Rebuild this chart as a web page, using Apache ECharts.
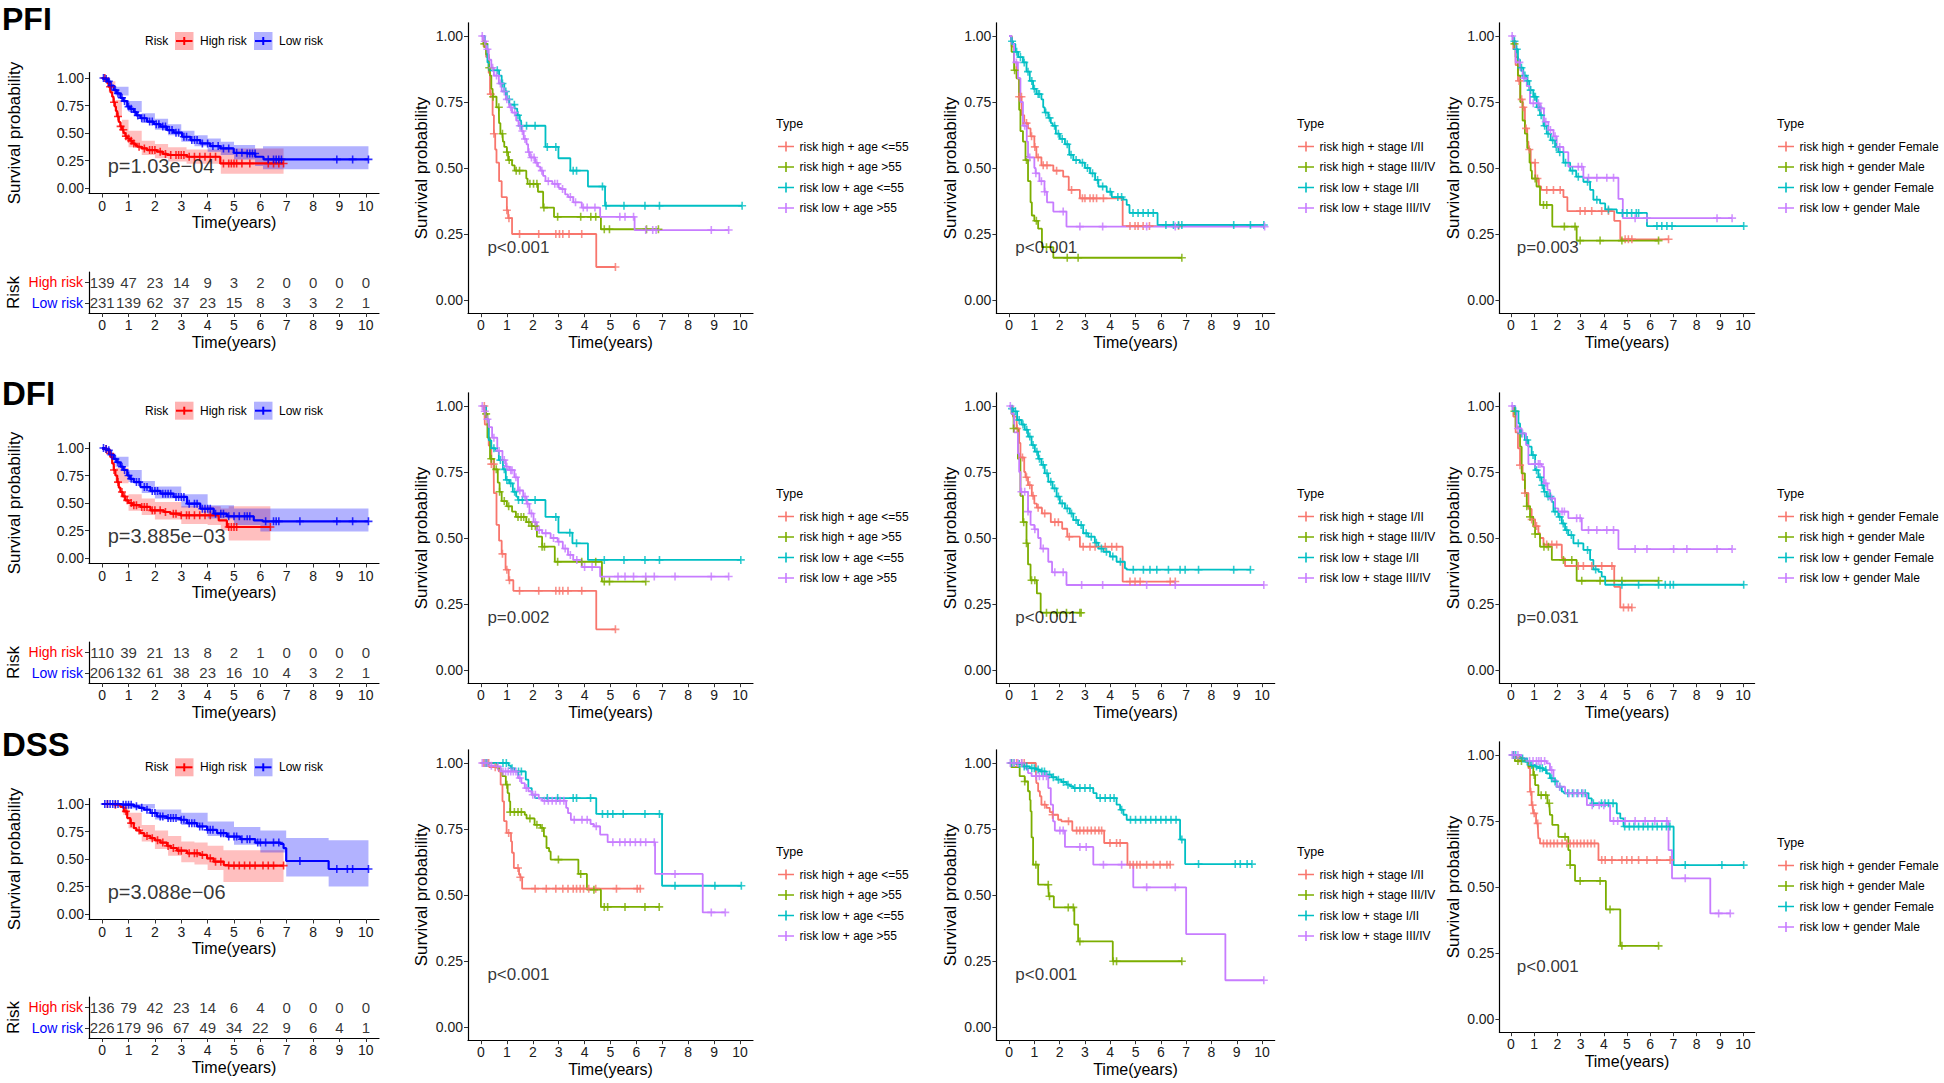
<!DOCTYPE html>
<html><head><meta charset="utf-8">
<script src="https://cdn.jsdelivr.net/npm/echarts@6/dist/echarts.min.js"></script>
<style>html,body{margin:0;padding:0;background:#fff}#c{width:1944px;height:1083px}</style>
</head><body><div id="c"></div>
<script>
// ---------------- DATA ----------------
const years = [0,1,2,3,4,5,6,7,8,9,10];
const probTicks = [0,0.25,0.5,0.75,1];
const riskGroups = ['Low risk','High risk'];
const rowTitles = ['PFI','DFI','DSS'];
const ageNames = ['risk high + age <=55','risk high + age >55','risk low + age <=55','risk low + age >55'];
const stageNames = ['risk high + stage I/II','risk high + stage III/IV','risk low + stage I/II','risk low + stage III/IV'];
const genderNames = ['risk high + gender Female','risk high + gender Male','risk low + gender Female','risk low + gender Male'];
const col1P = ['p=1.03e\u221204','p=3.885e\u221203','p=3.088e\u221206'];
const groupP = [['p<0.001','p<0.001','p=0.003'],['p=0.002','p<0.001','p=0.031'],['p<0.001','p<0.001','p<0.001']];

// risk tables
const pfiRiskHigh = [139,47,23,14,9,3,2,0,0,0,0];
const pfiRiskLow  = [231,139,62,37,23,15,8,3,3,2,1];
const dfiRiskHigh = [110,39,21,13,8,2,1,0,0,0,0];
const dfiRiskLow  = [206,132,61,38,23,16,10,4,3,2,1];
const dssRiskHigh = [136,79,42,23,14,6,4,0,0,0,0];
const dssRiskLow  = [226,179,96,67,49,34,22,9,6,4,1];

// ---- column 1: High / Low risk (steps [t,S], censor times, band [t,lo,hi]) ----
const pfiHigh = [[0,1],[0.13,0.99],[0.2,0.95],[0.25,0.92],[0.32,0.87],[0.38,0.83],[0.43,0.78],[0.48,0.74],[0.52,0.7],[0.57,0.65],[0.63,0.6],[0.69,0.56],[0.75,0.53],[0.82,0.5],[0.88,0.47],[0.95,0.45],[1.05,0.43],[1.14,0.405],[1.25,0.39],[1.33,0.375],[1.5,0.36],[1.7,0.345],[2.08,0.33],[2.3,0.31],[2.46,0.3],[3.22,0.284],[4.48,0.223]];
const pfiHighCens = [0.1,0.3,0.45,0.6,0.7,0.8,0.9,1.0,1.1,1.2,1.4,1.6,1.8,1.9,2.0,2.2,2.4,2.6,2.8,2.9,3.0,3.1,3.3,3.5,3.7,3.9,4.1,4.3,4.6,4.8,4.9,5.0,5.1,5.3,5.6,6.3,6.5,6.7,6.88];
const pfiHighBand = [[0,1,1],[0.25,0.87,0.97],[0.5,0.65,0.8],[0.75,0.47,0.62],[1,0.37,0.52],[1.5,0.3,0.43],[2,0.27,0.4],[2.5,0.24,0.37],[3.2,0.22,0.35],[4.5,0.13,0.36],[6.88,0.13,0.36]];
const pfiLow = [[0,1],[0.1,0.99],[0.19,0.97],[0.3,0.93],[0.44,0.89],[0.55,0.86],[0.69,0.82],[0.8,0.79],[0.95,0.74],[1.05,0.72],[1.2,0.69],[1.3,0.66],[1.45,0.634],[1.7,0.604],[1.96,0.58],[2.21,0.558],[2.46,0.527],[2.71,0.503],[3.03,0.466],[3.35,0.436],[3.72,0.405],[4.1,0.381],[4.48,0.36],[4.99,0.32],[5.49,0.314],[5.81,0.284],[6.12,0.26]];
const pfiLowCens = [0.05,0.15,0.25,0.35,0.5,0.6,0.75,0.85,1.0,1.1,1.25,1.35,1.5,1.6,1.8,1.9,2.05,2.15,2.3,2.4,2.55,2.65,2.8,2.9,3.1,3.2,3.4,3.5,3.6,3.8,4.0,4.2,4.4,4.6,4.8,5.1,5.3,5.5,5.6,5.7,5.8,6.3,6.5,6.6,6.7,6.8,8.9,9.5,10.1];
const pfiLowBand = [[0,1,1],[0.5,0.84,0.92],[1,0.69,0.79],[1.5,0.59,0.68],[2,0.53,0.63],[2.5,0.48,0.58],[3,0.42,0.52],[3.5,0.38,0.48],[4,0.33,0.45],[4.5,0.3,0.42],[5,0.26,0.39],[5.8,0.2,0.36],[6.1,0.17,0.38],[10.1,0.17,0.38]];

const dfiHigh = [[0,1],[0.1,0.99],[0.19,0.98],[0.25,0.95],[0.32,0.92],[0.38,0.86],[0.44,0.8],[0.5,0.75],[0.57,0.69],[0.63,0.64],[0.69,0.6],[0.78,0.56],[0.88,0.524],[1.0,0.5],[1.14,0.48],[1.45,0.464],[1.83,0.433],[2.34,0.418],[2.59,0.403],[2.97,0.388],[4.42,0.342],[4.73,0.282]];
const dfiHighCens = [0.15,0.3,0.45,0.6,0.75,0.85,0.95,1.1,1.2,1.3,1.5,1.6,1.7,1.9,2.0,2.2,2.4,2.7,2.8,3.0,3.2,3.3,3.5,3.7,3.9,4.1,4.8,4.9,5.0,5.1,6.38];
const dfiHighBand = [[0,1,1],[0.5,0.68,0.82],[1,0.43,0.58],[1.5,0.39,0.54],[2,0.35,0.51],[3,0.31,0.47],[4,0.3,0.47],[4.5,0.25,0.45],[4.8,0.16,0.47],[6.38,0.16,0.47]];
const dfiLow = [[0,1],[0.1,0.99],[0.19,0.98],[0.3,0.94],[0.44,0.9],[0.55,0.87],[0.69,0.83],[0.8,0.8],[0.95,0.75],[1.05,0.72],[1.2,0.69],[1.45,0.645],[1.83,0.61],[2.21,0.585],[2.71,0.555],[3.22,0.494],[3.72,0.448],[4.23,0.403],[4.73,0.379],[5.75,0.342],[6.1,0.333]];
const dfiLowCens = [0.05,0.15,0.25,0.35,0.5,0.6,0.75,0.85,1.0,1.1,1.3,1.4,1.6,1.7,1.9,2.0,2.1,2.3,2.4,2.5,2.6,2.8,2.9,3.0,3.1,3.3,3.5,3.6,3.8,3.9,4.0,4.1,4.3,4.5,4.6,4.8,5.0,5.2,5.4,5.5,5.6,6.2,6.5,6.6,6.7,7.5,8.9,9.5,10.1];
const dfiLowBand = [[0,1,1],[0.5,0.83,0.92],[1,0.69,0.8],[1.5,0.59,0.7],[2,0.54,0.65],[3,0.46,0.58],[4,0.36,0.48],[5,0.3,0.45],[6,0.24,0.45],[10.1,0.24,0.45]];

const dssHigh = [[0,1],[0.44,0.994],[0.69,0.973],[0.82,0.933],[0.95,0.872],[1.07,0.826],[1.2,0.78],[1.3,0.76],[1.45,0.735],[1.6,0.71],[1.83,0.689],[2.0,0.67],[2.21,0.649],[2.46,0.619],[2.6,0.6],[2.84,0.576],[3.22,0.552],[3.72,0.537],[3.98,0.506],[4.23,0.476],[4.61,0.445],[4.75,0.44]];
const dssHighCens = [0.2,0.5,0.9,1.1,1.4,1.7,1.9,2.1,2.3,2.5,2.7,2.9,3.0,3.3,3.5,3.6,3.8,4.1,4.3,4.5,4.8,5.0,5.2,5.4,5.6,5.8,6.1,6.3,6.5,6.88];
const dssHighBand = [[0,1,1],[0.8,0.9,1],[1,0.78,0.92],[1.5,0.66,0.81],[2,0.59,0.76],[2.5,0.53,0.71],[3,0.47,0.66],[3.5,0.45,0.65],[4,0.4,0.62],[4.6,0.29,0.58],[6.88,0.29,0.58]];
const dssLow = [[0,1],[0.69,0.994],[1.2,0.979],[1.4,0.965],[1.58,0.948],[1.83,0.918],[2.08,0.887],[2.46,0.872],[2.97,0.857],[3.22,0.826],[3.6,0.796],[3.98,0.765],[4.36,0.735],[4.73,0.704],[5.24,0.68],[5.81,0.649],[6.76,0.637],[6.88,0.598],[6.98,0.482],[8.59,0.409]];
const dssLowCens = [0.1,0.2,0.3,0.4,0.5,0.6,0.8,0.9,1.0,1.1,1.3,1.5,1.7,1.9,2.0,2.2,2.3,2.5,2.6,2.7,2.8,3.0,3.1,3.3,3.4,3.5,3.7,3.8,4.0,4.1,4.2,4.5,4.6,4.8,5.0,5.1,5.3,5.5,5.6,5.9,6.0,6.2,6.5,6.7,7.5,8.9,9.3,9.5,10.1];
const dssLowBand = [[0,1,1],[1,0.96,1],[2,0.86,0.95],[3,0.81,0.92],[4,0.71,0.84],[5,0.63,0.79],[6,0.56,0.76],[6.98,0.34,0.69],[8.59,0.25,0.67],[10.1,0.25,0.67]];

// ---- PFI: age ----
const pfiAge1 = [[0,1],[0.1,0.96],[0.2,0.92],[0.3,0.86],[0.35,0.78],[0.45,0.7],[0.5,0.63],[0.55,0.57],[0.6,0.52],[0.7,0.45],[0.8,0.39],[1.0,0.34],[1.05,0.31],[1.2,0.25],[4.45,0.125]];
const pfiAge1Cens = [0.38,0.5,1.0,1.08,1.49,2.23,2.89,3.03,3.16,3.4,3.89,5.19];
const pfiAge2 = [[0,1],[0.1,0.97],[0.2,0.93],[0.3,0.88],[0.35,0.85],[0.4,0.8],[0.45,0.77],[0.6,0.73],[0.7,0.67],[0.75,0.63],[0.85,0.6],[0.9,0.58],[1.0,0.56],[1.05,0.53],[1.2,0.51],[1.3,0.49],[1.75,0.46],[1.8,0.44],[2.2,0.41],[2.4,0.35],[2.82,0.315],[4.63,0.268]];
const pfiAge2Cens = [0.13,0.32,0.47,0.69,0.83,1.0,1.09,1.36,1.49,1.89,2.03,2.16,2.43,2.96,3.85,4.24,4.43,4.76,4.96,6.39,6.85];
const pfiAge3 = [[0,1],[0.15,0.97],[0.25,0.9],[0.3,0.87],[0.7,0.85],[0.8,0.82],[0.9,0.79],[1.0,0.76],[1.1,0.74],[1.3,0.725],[1.4,0.7],[1.5,0.68],[1.55,0.66],[2.49,0.58],[2.99,0.537],[3.45,0.49],[4.13,0.43],[4.79,0.357]];
const pfiAge3Cens = [0.63,0.83,0.96,1.09,1.29,1.43,1.56,1.76,2.09,2.56,2.89,3.56,3.69,4.69,4.83,5.52,6.33,6.89,10.08];
const pfiAge4 = [[0,1],[0.1,0.98],[0.2,0.95],[0.3,0.91],[0.4,0.88],[0.5,0.85],[0.69,0.82],[0.8,0.79],[0.96,0.76],[1.09,0.73],[1.2,0.71],[1.36,0.68],[1.45,0.66],[1.56,0.64],[1.65,0.61],[1.76,0.59],[1.82,0.56],[1.89,0.54],[2.09,0.52],[2.2,0.505],[2.29,0.49],[2.4,0.47],[2.49,0.45],[2.76,0.44],[3.0,0.425],[3.09,0.42],[3.25,0.4],[3.36,0.39],[3.56,0.37],[3.89,0.35],[4.6,0.315],[5.93,0.265]];
const pfiAge4Cens = [0.05,0.15,0.25,0.45,0.6,0.75,0.9,1.0,1.15,1.3,1.5,1.6,1.7,1.85,1.95,2.05,2.15,2.35,2.6,2.85,2.95,3.15,3.45,3.65,3.95,4.1,4.4,5.36,5.56,5.89,6.36,6.63,6.76,8.89,9.56];
// ---- PFI: stage ----
const pfiStage1 = [[0,1],[0.1,0.96],[0.2,0.9],[0.3,0.84],[0.4,0.77],[0.5,0.7],[0.6,0.67],[0.75,0.65],[0.85,0.62],[1.0,0.58],[1.08,0.54],[1.28,0.51],[1.75,0.49],[2.14,0.467],[2.36,0.417],[2.8,0.385],[4.49,0.28]];
const pfiStage1Cens = [0.4,0.49,0.69,0.89,1.02,1.15,1.35,1.5,1.88,2.47,2.9,3.0,3.2,3.33,3.46,3.73,4.78,4.98,5.1,5.3,5.55,6.7];
const pfiStage2 = [[0,1],[0.1,0.94],[0.2,0.87],[0.3,0.84],[0.4,0.72],[0.45,0.64],[0.55,0.6],[0.65,0.53],[0.75,0.45],[0.85,0.37],[0.9,0.32],[1.0,0.3],[1.15,0.27],[1.3,0.2],[1.75,0.16]];
const pfiStage2Cens = [0.22,0.69,1.08,1.48,2.3,2.73,6.83];
const pfiStage3 = [[0,1],[0.08,0.98],[0.16,0.97],[0.25,0.94],[0.36,0.92],[0.55,0.9],[0.69,0.865],[0.82,0.83],[0.95,0.8],[1.08,0.78],[1.28,0.76],[1.35,0.73],[1.41,0.71],[1.55,0.69],[1.65,0.67],[1.72,0.66],[1.85,0.63],[2.01,0.61],[2.21,0.59],[2.38,0.55],[2.54,0.53],[2.8,0.52],[3.0,0.5],[3.2,0.48],[3.4,0.455],[3.53,0.43],[3.86,0.41],[4.06,0.39],[4.52,0.38],[4.65,0.36],[4.76,0.33],[5.87,0.284]];
const pfiStage3Cens = [0.12,0.3,0.45,0.6,0.75,0.9,1.0,1.15,1.2,1.45,1.6,1.8,1.95,2.1,2.3,2.45,2.65,2.9,3.1,3.3,3.5,3.7,4.0,4.3,4.45,4.9,5.1,5.3,5.5,5.7,6.2,6.5,6.7,6.83,8.88,9.54,10.07];
const pfiStage4 = [[0,1],[0.1,0.97],[0.2,0.9],[0.35,0.84],[0.45,0.75],[0.55,0.66],[0.7,0.6],[0.75,0.54],[1.0,0.5],[1.05,0.48],[1.2,0.45],[1.4,0.41],[1.5,0.37],[1.75,0.335],[2.27,0.278]];
const pfiStage4Cens = [0.29,0.62,0.82,1.06,1.28,1.41,2.14,2.8,3.7,5.44,6.57,10.1];
// ---- PFI: gender ----
const pfiGender1 = [[0,1],[0.1,0.95],[0.2,0.89],[0.3,0.83],[0.4,0.76],[0.5,0.73],[0.6,0.65],[0.7,0.6],[0.75,0.57],[0.85,0.52],[1.05,0.46],[1.2,0.43],[1.3,0.417],[2.26,0.39],[2.43,0.337],[4.45,0.3],[4.71,0.23]];
const pfiGender1Cens = [0.35,0.46,0.53,0.65,0.79,1.04,1.14,1.54,1.83,2.12,2.98,3.19,3.48,3.91,4.2,4.92,5.06,5.21,6.79];
const pfiGender2 = [[0,1],[0.1,0.97],[0.2,0.92],[0.3,0.85],[0.4,0.75],[0.5,0.68],[0.6,0.63],[0.7,0.575],[0.8,0.52],[0.85,0.49],[0.9,0.46],[1.1,0.43],[1.25,0.36],[1.78,0.278],[2.83,0.225]];
const pfiGender2Cens = [0.15,1.04,1.4,1.54,2.3,2.76,2.98,3.84,4.78,6.36];
const pfiGender3 = [[0,1],[0.1,0.98],[0.2,0.95],[0.3,0.91],[0.39,0.88],[0.53,0.85],[0.68,0.83],[0.79,0.795],[0.96,0.77],[1.11,0.73],[1.25,0.7],[1.4,0.66],[1.54,0.63],[1.71,0.605],[1.9,0.58],[2.04,0.56],[2.26,0.52],[2.55,0.49],[2.81,0.467],[3.12,0.448],[3.41,0.417],[3.55,0.38],[3.84,0.366],[4.06,0.343],[4.56,0.33],[5.86,0.28]];
const pfiGender3Cens = [0.15,0.25,0.45,0.6,0.72,0.85,1.0,1.05,1.18,1.3,1.45,1.6,1.8,1.95,2.1,2.35,2.65,2.9,3.3,3.7,4.2,4.8,5.0,5.2,5.4,5.5,6.29,6.5,6.72,6.94,10.03];
const pfiGender4 = [[0,1],[0.1,0.98],[0.2,0.9],[0.4,0.87],[0.5,0.84],[0.68,0.81],[0.82,0.745],[1.25,0.726],[1.42,0.675],[1.61,0.644],[1.83,0.62],[1.97,0.58],[2.26,0.56],[2.47,0.505],[3.12,0.463],[4.63,0.383],[4.82,0.31]];
const pfiGender4Cens = [0.05,0.36,0.55,0.96,1.18,1.3,1.5,1.7,1.9,2.1,2.9,3.05,3.34,3.7,4.13,4.42,5.35,5.86,8.88,9.53];

// ---- DFI: age ----
const dfiAge1 = [[0,1],[0.15,0.93],[0.3,0.85],[0.4,0.78],[0.5,0.67],[0.6,0.55],[0.7,0.49],[0.8,0.44],[0.95,0.38],[1.07,0.34],[1.25,0.3],[4.45,0.154]];
const dfiAge1Cens = [0.13,0.4,0.49,0.83,1.0,1.1,1.49,2.23,2.89,3.03,3.16,3.36,3.89,5.19];
const dfiAge2 = [[0,1],[0.15,0.97],[0.25,0.88],[0.35,0.8],[0.5,0.76],[0.65,0.71],[0.72,0.675],[0.8,0.64],[1.0,0.62],[1.2,0.6],[1.35,0.58],[1.75,0.56],[1.95,0.545],[2.16,0.505],[2.36,0.467],[2.85,0.41],[4.67,0.335]];
const dfiAge2Cens = [0.2,0.4,0.59,0.72,0.9,1.07,1.43,1.55,1.65,1.85,1.96,2.1,2.36,2.45,2.96,3.89,4.43,4.76,4.96,6.36];
const dfiAge3 = [[0,1],[0.2,0.95],[0.3,0.87],[0.4,0.84],[0.56,0.83],[0.69,0.795],[0.85,0.76],[0.96,0.72],[1.09,0.707],[1.23,0.675],[1.36,0.657],[1.43,0.644],[2.49,0.58],[2.99,0.52],[3.53,0.48],[4.13,0.417]];
const dfiAge3Cens = [0.5,0.75,0.9,1.0,1.15,1.3,1.45,1.6,2.09,2.89,3.43,3.69,4.76,5.52,6.33,6.89,10.03];
const dfiAge4 = [[0,1],[0.1,0.98],[0.2,0.95],[0.3,0.92],[0.43,0.88],[0.63,0.83],[0.83,0.795],[0.96,0.77],[1.09,0.757],[1.29,0.73],[1.43,0.68],[1.63,0.657],[1.76,0.63],[1.87,0.593],[2.03,0.56],[2.16,0.53],[2.36,0.518],[2.69,0.5],[2.96,0.486],[3.16,0.46],[3.36,0.436],[3.56,0.417],[3.89,0.39],[4.6,0.354]];
const dfiAge4Cens = [0.05,0.15,0.25,0.5,0.7,0.9,1.0,1.15,1.2,1.35,1.5,1.7,1.8,1.95,2.1,2.25,2.5,2.8,3.0,3.25,3.45,3.7,4.0,4.29,5.29,5.56,5.89,6.36,6.69,7.49,8.89,9.56];
// ---- DFI: stage ----
const dfiStage1 = [[0,1],[0.15,0.96],[0.3,0.915],[0.4,0.86],[0.45,0.805],[0.6,0.75],[0.65,0.73],[0.75,0.7],[0.9,0.66],[1.0,0.63],[1.1,0.615],[1.3,0.593],[1.65,0.56],[2.1,0.535],[2.3,0.505],[2.8,0.467],[4.49,0.335]];
const dfiStage1Cens = [0.32,0.53,0.69,0.82,0.95,1.15,1.41,1.81,1.95,2.38,2.93,3.2,3.4,3.8,4.06,4.25,4.78,4.98,5.18,6.37,6.57];
const dfiStage2 = [[0,1],[0.1,0.97],[0.18,0.915],[0.35,0.8],[0.45,0.66],[0.55,0.56],[0.69,0.48],[0.75,0.4],[0.85,0.34],[1.1,0.29],[1.25,0.217]];
const dfiStage2Cens = [0.18,0.58,0.69,0.89,1.02,1.48,1.9,2.27,2.8,2.85];
const dfiStage3 = [[0,1],[0.08,0.99],[0.16,0.98],[0.32,0.947],[0.49,0.93],[0.62,0.91],[0.75,0.884],[0.89,0.852],[1.02,0.827],[1.15,0.8],[1.28,0.777],[1.41,0.745],[1.55,0.713],[1.72,0.688],[1.88,0.657],[2.01,0.631],[2.21,0.612],[2.4,0.593],[2.54,0.568],[2.73,0.549],[2.93,0.518],[3.13,0.505],[3.39,0.482],[3.53,0.46],[3.73,0.448],[3.99,0.43],[4.25,0.41],[4.58,0.385],[4.65,0.38]];
const dfiStage3Cens = [0.12,0.25,0.4,0.55,0.7,0.82,0.95,1.1,1.2,1.35,1.5,1.65,1.8,1.95,2.1,2.3,2.47,2.65,2.85,3.05,3.25,3.45,3.65,3.85,4.1,4.4,4.91,5.31,5.57,5.84,6.3,6.76,6.96,7.49,8.88,9.54];
const dfiStage4 = [[0,1],[0.1,0.97],[0.2,0.9],[0.35,0.82],[0.4,0.75],[0.45,0.675],[0.75,0.6],[0.85,0.55],[1.0,0.533],[1.15,0.5],[1.25,0.46],[1.55,0.41],[1.7,0.37],[2.27,0.322]];
const dfiStage4Cens = [0.05,0.49,0.62,0.75,1.02,1.35,1.81,2.14,2.87,3.7,5.44,6.57,10.07];
// ---- DFI: gender ----
const dfiGender1 = [[0,1],[0.1,0.96],[0.2,0.9],[0.3,0.84],[0.39,0.776],[0.5,0.72],[0.6,0.67],[0.75,0.61],[0.89,0.57],[1.04,0.545],[1.18,0.518],[1.25,0.5],[1.4,0.475],[2.19,0.423],[2.33,0.394],[4.45,0.315],[4.71,0.237]];
const dfiGender1Cens = [0.39,0.6,0.89,1.1,1.54,1.76,1.97,2.9,3.12,3.48,3.91,4.35,4.85,5.06,5.21];
const dfiGender2 = [[0,1],[0.1,0.98],[0.2,0.92],[0.39,0.846],[0.46,0.745],[0.6,0.67],[0.68,0.62],[0.82,0.58],[0.96,0.543],[1.04,0.515],[1.25,0.467],[1.76,0.417],[2.83,0.338]];
const dfiGender2Cens = [0.15,0.68,0.82,1.04,1.42,1.61,2.26,2.62,3.05,3.84,4.78,6.36];
const dfiGender3 = [[0,1],[0.17,0.98],[0.32,0.934],[0.39,0.896],[0.6,0.871],[0.75,0.846],[0.89,0.814],[1.04,0.757],[1.18,0.73],[1.32,0.7],[1.42,0.675],[1.54,0.657],[1.76,0.637],[1.83,0.6],[2.04,0.58],[2.19,0.555],[2.33,0.53],[2.47,0.511],[2.69,0.48],[3.12,0.455],[3.41,0.417],[3.55,0.381],[3.77,0.372],[3.91,0.354],[4.06,0.323]];
const dfiGender3Cens = [0.2,0.45,0.7,0.95,1.1,1.25,1.35,1.45,1.6,1.7,1.9,2.1,2.25,2.4,2.6,2.9,3.3,3.65,4.78,5.5,6.36,6.65,6.86,7.0,10.03];
const dfiGender4 = [[0,1],[0.1,0.98],[0.24,0.915],[0.46,0.896],[0.65,0.852],[0.75,0.78],[1.32,0.77],[1.42,0.707],[1.57,0.682],[1.68,0.65],[1.9,0.612],[2.04,0.6],[2.47,0.575],[3.05,0.53],[4.63,0.458]];
const dfiGender4Cens = [0.05,0.3,0.5,1.04,1.18,1.25,1.5,1.75,2.2,2.3,2.83,2.98,3.34,3.7,4.13,4.42,5.35,5.86,7.01,7.58,8.88,9.53];

// ---- DSS: age ----
const dssAge1 = [[0,1],[0.32,0.984],[0.69,0.968],[0.76,0.918],[0.83,0.855],[0.89,0.78],[0.99,0.735],[1.16,0.703],[1.2,0.66],[1.27,0.602],[1.47,0.577],[1.52,0.567],[1.59,0.524]];
const dssAge1Cens = [0.1,0.3,0.55,1.07,1.43,1.52,2.09,2.52,2.89,3.16,3.36,3.56,3.69,3.83,3.96,4.16,4.43,5.23,6.03,6.15];
const dssAge2 = [[0,1],[0.63,0.98],[0.76,0.968],[0.83,0.95],[0.96,0.918],[1.03,0.886],[1.09,0.855],[1.13,0.814],[1.69,0.804],[1.76,0.79],[2.07,0.766],[2.3,0.754],[2.43,0.722],[2.53,0.678],[2.63,0.665],[2.69,0.634],[3.76,0.58],[4.09,0.52],[4.63,0.455]];
const dssAge2Cens = [0.15,0.25,1.0,1.13,1.29,1.43,1.56,1.89,2.16,2.36,2.99,3.85,4.36,4.76,4.89,5.56,6.33,6.88];
const dssAge3 = [[0,1],[1.07,0.99],[1.16,0.98],[1.29,0.968],[1.73,0.937],[1.83,0.905],[1.96,0.88],[2.09,0.867],[4.45,0.807],[6.99,0.535]];
const dssAge3Cens = [0.2,0.85,0.98,1.2,1.45,1.56,2.56,2.96,3.56,3.69,4.23,4.69,4.89,5.09,5.49,6.33,6.89,7.49,9.03,10.05];
const dssAge4 = [[0,1],[0.32,0.99],[0.56,0.987],[0.76,0.968],[1.43,0.943],[1.56,0.924],[1.69,0.905],[1.83,0.893],[1.96,0.88],[2.23,0.865],[2.36,0.857],[3.29,0.83],[3.36,0.81],[3.47,0.785],[4.23,0.769],[4.36,0.76],[4.6,0.729],[4.89,0.7],[6.72,0.58],[8.56,0.434]];
const dssAge4Cens = [0.05,0.15,0.25,0.4,0.65,0.85,0.95,1.05,1.15,1.25,1.35,1.5,1.75,2.0,2.1,2.45,2.6,2.75,2.9,3.05,3.2,3.6,3.9,4.1,4.45,5.09,5.36,5.56,5.76,5.96,6.16,6.36,6.69,7.49,8.89,9.43];
// ---- DSS: stage ----
const dssStage1 = [[0,1],[1.06,0.968],[1.08,0.924],[1.15,0.893],[1.22,0.874],[1.28,0.842],[1.48,0.83],[1.61,0.814],[1.72,0.804],[1.94,0.785],[2.07,0.779],[2.5,0.744],[3.76,0.697],[4.68,0.615]];
const dssStage1Cens = [0.1,0.3,0.5,0.6,1.41,1.72,2.35,2.67,2.8,2.95,3.1,3.25,3.4,3.55,3.66,3.99,4.25,4.39,4.78,4.91,5.05,5.18,5.44,5.71,5.97,6.24,6.37];
const dssStage2 = [[0,1],[0.09,0.984],[0.42,0.95],[0.62,0.93],[0.75,0.893],[0.82,0.86],[0.85,0.817],[0.89,0.718],[0.95,0.615],[1.15,0.539],[1.57,0.495],[1.77,0.453],[2.58,0.388],[2.73,0.324],[4.1,0.249]];
const dssStage2Cens = [0.62,1.06,1.55,1.6,2.34,2.54,2.8,4.12,4.25,6.83];
const dssStage3 = [[0,1],[0.29,0.996],[0.49,0.987],[0.82,0.98],[1.08,0.975],[1.22,0.968],[1.48,0.956],[1.68,0.946],[1.88,0.937],[2.07,0.928],[2.27,0.918],[2.4,0.912],[2.54,0.905],[3.33,0.886],[3.46,0.867],[4.25,0.842],[4.39,0.823],[4.52,0.804],[4.65,0.785],[6.76,0.71],[6.96,0.617]];
const dssStage3Cens = [0.1,0.2,0.4,0.6,0.7,0.9,1.0,1.15,1.3,1.4,1.6,1.75,1.95,2.15,2.33,2.6,2.8,3.0,3.2,3.6,3.8,4.0,4.15,4.45,4.8,5.0,5.2,5.4,5.6,5.8,6.0,6.2,6.4,6.6,6.83,7.49,8.94,9.14,9.41,9.6];
const dssStage4 = [[0,1],[0.62,0.98],[0.75,0.962],[0.89,0.95],[1.55,0.905],[1.65,0.842],[1.74,0.779],[1.81,0.744],[2.21,0.682],[3.33,0.615],[4.91,0.529],[7.0,0.352],[8.55,0.177]];
const dssStage4Cens = [0.05,0.2,0.35,0.5,1.08,1.2,1.35,1.48,2.01,2.14,2.8,3.05,3.73,4.45,5.44,6.57,10.07];
// ---- DSS: gender ----
const dssGender1 = [[0,1],[0.24,0.987],[0.6,0.975],[0.75,0.95],[0.82,0.861],[0.89,0.81],[0.96,0.779],[1.08,0.741],[1.18,0.684],[1.25,0.665],[3.77,0.602]];
const dssGender1Cens = [0.1,0.35,0.85,0.93,1.0,1.15,1.4,1.55,1.7,1.85,2.0,2.2,2.4,2.55,2.7,2.85,3.0,3.15,3.3,3.45,3.6,3.91,4.06,4.35,4.78,4.99,5.21,5.5,5.86,6.29,6.86];
const dssGender2 = [[0,1],[0.17,0.977],[0.75,0.956],[0.96,0.924],[1.04,0.886],[1.18,0.848],[1.57,0.817],[1.68,0.773],[1.78,0.735],[2.04,0.69],[2.47,0.64],[2.55,0.583],[2.76,0.523],[4.09,0.415],[4.71,0.277]];
const dssGender2Cens = [0.3,0.45,1.0,1.3,1.5,1.65,2.33,2.55,2.98,3.84,4.27,4.78,6.36];
const dssGender3 = [[0,1],[0.39,0.987],[0.6,0.975],[0.82,0.962],[1.04,0.956],[1.18,0.95],[1.4,0.943],[1.54,0.93],[1.68,0.912],[1.83,0.9],[1.97,0.88],[2.19,0.861],[2.29,0.855],[3.34,0.836],[3.48,0.817],[4.56,0.779],[4.71,0.76],[4.85,0.729],[7.01,0.583]];
const dssGender3Cens = [0.1,0.2,0.5,0.7,0.9,1.1,1.25,1.35,1.5,1.75,1.9,2.1,2.45,2.65,2.85,3.05,3.2,3.55,3.9,4.05,4.2,4.4,4.9,5.1,5.3,5.5,5.7,5.9,6.1,6.3,6.5,6.7,6.85,7.51,9.09,10.03];
const dssGender4 = [[0,1],[0.46,0.987],[0.68,0.977],[1.54,0.968],[1.68,0.943],[1.83,0.905],[1.97,0.88],[2.33,0.855],[3.27,0.81],[4.27,0.75],[6.79,0.64],[6.94,0.533],[8.59,0.4]];
const dssGender4Cens = [0.05,0.15,0.3,0.8,0.95,1.1,1.2,1.3,1.45,1.75,2.1,2.5,2.7,2.9,3.1,3.5,3.8,4.0,4.42,4.6,4.92,5.35,5.78,6.2,6.72,7.51,8.95,9.45];

// ---------------- LAYOUT / STYLE ----------------
const FONT = '"Liberation Sans", Arial, Helvetica, sans-serif';
const HUE = ['#F8766D','#7CAE00','#00BFC4','#C77CFF'];
const PLUS = 'path://M4,0H6V4H10V6H6V10H4V6H0V4H4Z';
const LEG_ICON = 'path://M0,4.2H7.2V0H8.8V4.2H16V5.8H8.8V10H7.2V5.8H0Z';
const COLS = [{left:89,width:290,yGap:66},{left:468,width:285,yGap:38},{left:996.4,width:278.3,yGap:37},{left:1499.4,width:255.2,yGap:37}];
const KM1_TOP = [72.5,442.5,798.5];
const RISK_TOP = [272,642,997];
const KM_TOP = [[22.8,22.8,22.8],[392.8,392.8,392.8],[749.8,749.8,741.8]];
const LEG_TYPE_X = [[776,778],[1297,1298],[1777,1778]];
const LEG_TYPE_Y = [[124,124,124],[494,494,494],[852,852,843]];
const COL1_LEG_Y = [41,410.7,767.3];

function survAt(steps, t){ let s = steps[0][1]; for (const p of steps){ if (p[0] <= t + 1e-9) s = p[1]; else break; } return s; }
function kmLine(steps, cens){ const pts = steps.map(p=>[p[0],p[1]]); cens.forEach(t=>pts.push([t, survAt(steps,t)])); pts.sort((a,b)=>a[0]-b[0] || b[1]-a[1]); return pts; }

const grid=[], xAxis=[], yAxis=[], series=[], legend=[], graphic=[];
const axLine = () => ({show:true, onZero:false, lineStyle:{color:'#000', width:1.2}});
const axTick = (vals) => ({show:true, length:4, customValues:vals, lineStyle:{color:'#333'}});
const TXT = {fontFamily:FONT, color:'#1a1a1a'};

function xAx(gi, gap){
  return {gridIndex:gi, type:'value', position:'bottom', min:-0.5, max:10.5, axisLine:axLine(), axisTick:axTick(years),
    axisLabel:Object.assign({show:true, customValues:years, margin:5, fontSize:14}, TXT),
    splitLine:{show:false}, name:'Time(years)', nameLocation:'middle', nameGap:gap, nameMoveOverlap:false,
    nameTextStyle:{fontSize:16, fontFamily:FONT, color:'#000'}};
}
function addKM(left, top, width, height, yGap){
  const gi = grid.length;
  grid.push({left, top, width, height, containLabel:false, outerBoundsMode:'none'});
  xAxis.push(xAx(gi, 21));
  yAxis.push({gridIndex:gi, type:'value', min:-0.05, max:1.05, axisLine:axLine(), axisTick:axTick(probTicks),
    axisLabel:Object.assign({show:true, customValues:probTicks, formatter:v=>v.toFixed(2), margin:5, fontSize:14}, TXT),
    splitLine:{show:false}, name:'Survival probability', nameLocation:'middle', nameRotate:90, nameGap:yGap, nameMoveOverlap:false,
    nameTextStyle:{fontSize:17, fontFamily:FONT, color:'#000'}});
  return gi;
}
function addCurve(gi, steps, cens, name, color, lw){
  series.push({type:'line', name, xAxisIndex:gi, yAxisIndex:gi, data:kmLine(steps,cens), step:'end', showSymbol:false, symbol:'none',
    lineStyle:{color, width:lw || 1.8}, itemStyle:{color}, z:3, silent:true, animation:false});
  series.push({type:'scatter', name, xAxisIndex:gi, yAxisIndex:gi, data:cens.map(t=>[t, survAt(steps,t)]), symbol:PLUS, symbolSize:8,
    itemStyle:{color}, z:4, silent:true, animation:false});
}
function addBand(gi, band, fill){
  series.push({type:'custom', xAxisIndex:gi, yAxisIndex:gi, data:band, z:1, silent:true, encode:{x:0, y:[1,2]},
    renderItem:(params, api)=>{
      if (params.dataIndex !== 0) return null;
      const up=[], lo=[];
      for (let i=0;i<band.length;i++){
        const t = band[i][0], tn = i<band.length-1 ? band[i+1][0] : t;
        up.push(api.coord([t, band[i][2]]), api.coord([tn, band[i][2]]));
        lo.push(api.coord([t, band[i][1]]), api.coord([tn, band[i][1]]));
      }
      return {type:'polygon', shape:{points:up.concat(lo.reverse())}, style:{fill}};
    }});
}
function addP(gi, text, px, py, size){
  series.push({type:'scatter', xAxisIndex:gi, yAxisIndex:gi, data:[[px,py]], symbolSize:1, itemStyle:{color:'rgba(0,0,0,0)'}, z:6, silent:true,
    label:{show:true, position:'right', distance:0, formatter:text, fontSize:size, fontFamily:FONT, color:'#000'}});
}
function addRisk(top, high, low){
  const gi = grid.length;
  grid.push({left:COLS[0].left, top, width:COLS[0].width, height:41, containLabel:false, outerBoundsMode:'none'});
  xAxis.push(xAx(gi, 21));
  yAxis.push({gridIndex:gi, type:'category', position:'left', data:riskGroups, axisLine:axLine(),
    axisTick:{show:true, alignWithLabel:true, length:4, lineStyle:{color:'#333'}},
    axisLabel:{show:true, fontSize:14, fontFamily:FONT, margin:6, color:(v)=> v==='High risk' ? '#FF0000' : '#0000FF'},
    name:'Risk', nameLocation:'middle', nameRotate:90, nameGap:67, nameMoveOverlap:false, nameTextStyle:{fontSize:17, fontFamily:FONT, color:'#000'}});
  const pts = high.map((v,i)=>[years[i],1,v]).concat(low.map((v,i)=>[years[i],0,v]));
  series.push({type:'scatter', xAxisIndex:gi, yAxisIndex:gi, data:pts, symbolSize:1, itemStyle:{color:'rgba(0,0,0,0)'}, silent:true,
    label:{show:true, position:'inside', formatter:p=>String(p.value[2]), fontSize:15, fontFamily:FONT, color:'#000'}});
}
function gText(x, y, text, size, weight){
  graphic.push({type:'text', x, y, silent:true, style:{text, x:0, y:0, fill:'#000', font:(weight||'normal')+' '+size+'px '+FONT,
    textAlign:'left', align:'left', textVerticalAlign:'middle', verticalAlign:'middle'}});
}
function col1Legend(ry){
  gText(145, ry, 'Risk', 12);
  [[175,'rgba(255,0,0,0.3)','#FF0000','High risk',200],[254,'rgba(0,0,255,0.3)','#0000FF','Low risk',279]].forEach(d=>{
    graphic.push({type:'rect', silent:true, shape:{x:d[0], y:ry-9, width:18.5, height:18}, style:{fill:d[1]}});
    graphic.push({type:'line', silent:true, shape:{x1:d[0]+1, y1:ry, x2:d[0]+17.5, y2:ry}, style:{stroke:d[2], lineWidth:2}});
    graphic.push({type:'line', silent:true, shape:{x1:d[0]+9.25, y1:ry-4, x2:d[0]+9.25, y2:ry+4}, style:{stroke:d[2], lineWidth:2}});
    gText(d[4], ry, d[3], 12);
  });
}

// ---------------- BUILD ----------------
const col1Data = [
  [pfiHigh,pfiHighCens,pfiHighBand,pfiLow,pfiLowCens,pfiLowBand,pfiRiskHigh,pfiRiskLow],
  [dfiHigh,dfiHighCens,dfiHighBand,dfiLow,dfiLowCens,dfiLowBand,dfiRiskHigh,dfiRiskLow],
  [dssHigh,dssHighCens,dssHighBand,dssLow,dssLowCens,dssLowBand,dssRiskHigh,dssRiskLow]
];
const groupData = [
  [ [[pfiAge1,pfiAge1Cens],[pfiAge2,pfiAge2Cens],[pfiAge3,pfiAge3Cens],[pfiAge4,pfiAge4Cens]],
    [[pfiStage1,pfiStage1Cens],[pfiStage2,pfiStage2Cens],[pfiStage3,pfiStage3Cens],[pfiStage4,pfiStage4Cens]],
    [[pfiGender1,pfiGender1Cens],[pfiGender2,pfiGender2Cens],[pfiGender3,pfiGender3Cens],[pfiGender4,pfiGender4Cens]] ],
  [ [[dfiAge1,dfiAge1Cens],[dfiAge2,dfiAge2Cens],[dfiAge3,dfiAge3Cens],[dfiAge4,dfiAge4Cens]],
    [[dfiStage1,dfiStage1Cens],[dfiStage2,dfiStage2Cens],[dfiStage3,dfiStage3Cens],[dfiStage4,dfiStage4Cens]],
    [[dfiGender1,dfiGender1Cens],[dfiGender2,dfiGender2Cens],[dfiGender3,dfiGender3Cens],[dfiGender4,dfiGender4Cens]] ],
  [ [[dssAge1,dssAge1Cens],[dssAge2,dssAge2Cens],[dssAge3,dssAge3Cens],[dssAge4,dssAge4Cens]],
    [[dssStage1,dssStage1Cens],[dssStage2,dssStage2Cens],[dssStage3,dssStage3Cens],[dssStage4,dssStage4Cens]],
    [[dssGender1,dssGender1Cens],[dssGender2,dssGender2Cens],[dssGender3,dssGender3Cens],[dssGender4,dssGender4Cens]] ]
];
const groupNames = [ageNames, stageNames, genderNames];
const titleY = [19, 393, 744];
const titleSize = [32, 33, 33];

for (let r=0;r<3;r++){
  const d = col1Data[r];
  const gi = addKM(COLS[0].left, KM1_TOP[r], COLS[0].width, 121, COLS[0].yGap);
  addBand(gi, d[2], 'rgba(255,0,0,0.25)');
  addBand(gi, d[5], 'rgba(0,0,255,0.3)');
  addCurve(gi, d[0], d[1], 'High risk', '#FF0000', 2.2);
  addCurve(gi, d[3], d[4], 'Low risk', '#0000FF', 2.2);
  addP(gi, col1P[r], 0.19, 0.2, 20);
  addRisk(RISK_TOP[r], d[6], d[7]);
  gText(2, titleY[r], rowTitles[r], titleSize[r], 'bold');
  col1Legend(COL1_LEG_Y[r]);
  for (let c=0;c<3;c++){
    const col = COLS[c+1];
    const g2 = addKM(col.left, KM_TOP[r][c], col.width, 290.4, col.yGap);
    groupData[r][c].forEach((cv,k)=> addCurve(g2, cv[0], cv[1], groupNames[c][k], HUE[k]));
    addP(g2, groupP[r][c], 0.23, 0.2, 17);
    const ty = LEG_TYPE_Y[r][c];
    gText(LEG_TYPE_X[c][0], ty, 'Type', 12.5);
    legend.push({left:LEG_TYPE_X[c][1], top:ty+15.5, orient:'vertical', data:groupNames[c], icon:LEG_ICON,
      itemWidth:17, itemHeight:10, itemGap:6.5, selectedMode:false, padding:0,
      textStyle:{fontSize:12, lineHeight:14, fontFamily:FONT, color:'#000'}});
  }
}

const chart = echarts.init(document.getElementById('c'), null, {renderer:'svg', width:1944, height:1083});
chart.setOption({backgroundColor:'#fff', animation:false, grid, xAxis, yAxis, series, legend, graphic, tooltip:{show:false}});
</script></body></html>
